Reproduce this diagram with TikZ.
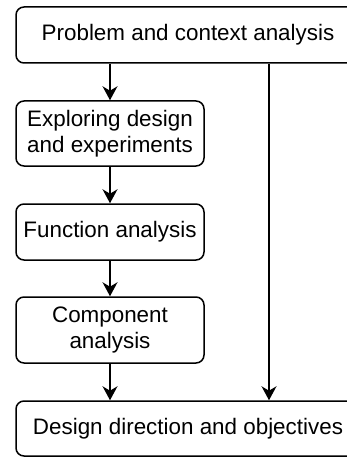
\documentclass[tikz,border=0pt]{standalone}
\usepackage{fontspec}
\setmainfont{Liberation Sans}
\usetikzlibrary{arrows.meta}

\begin{document}
\begin{tikzpicture}[x=1pt,y=-1pt,
    stepbox/.style={draw,line width=1.5pt,rounded corners=8pt,align=center,
      inner sep=0pt,font=\fontsize{22.4}{26}\selectfont},
    wide/.style={stepbox,minimum width=344pt},
    narrow/.style={stepbox,minimum width=188pt},
    flow/.style={-{Stealth[length=14pt,width=15pt,inset=4.5pt]},line width=1.5pt}]
    \useasboundingbox (0,0) rectangle (347,457);
    \node[wide,minimum height=56pt] (problem) at (188,35) {Problem and context analysis};
    \node[narrow,minimum height=65pt] (explore) at (110,133.5) {Exploring design\\and experiments};
    \node[narrow,minimum height=56pt] (function) at (110,232) {Function analysis};
    \node[narrow,minimum height=66pt] (component) at (110,330) {Component\\analysis};
    \node[wide,minimum height=55pt] (direction) at (188,428.5) {Design direction and objectives};
    % left column
    \draw[flow] (explore.north |- problem.south) -- (explore.north);
    \draw[flow] (explore) -- (function);
    \draw[flow] (function) -- (component);
    \draw[flow] (component.south) -- (component.south |- direction.north);
    % shortcut on the right
    \coordinate (skip) at (269,0);
    \draw[flow] (skip |- problem.south) -- (skip |- direction.north);
  \end{tikzpicture}
\end{document}
